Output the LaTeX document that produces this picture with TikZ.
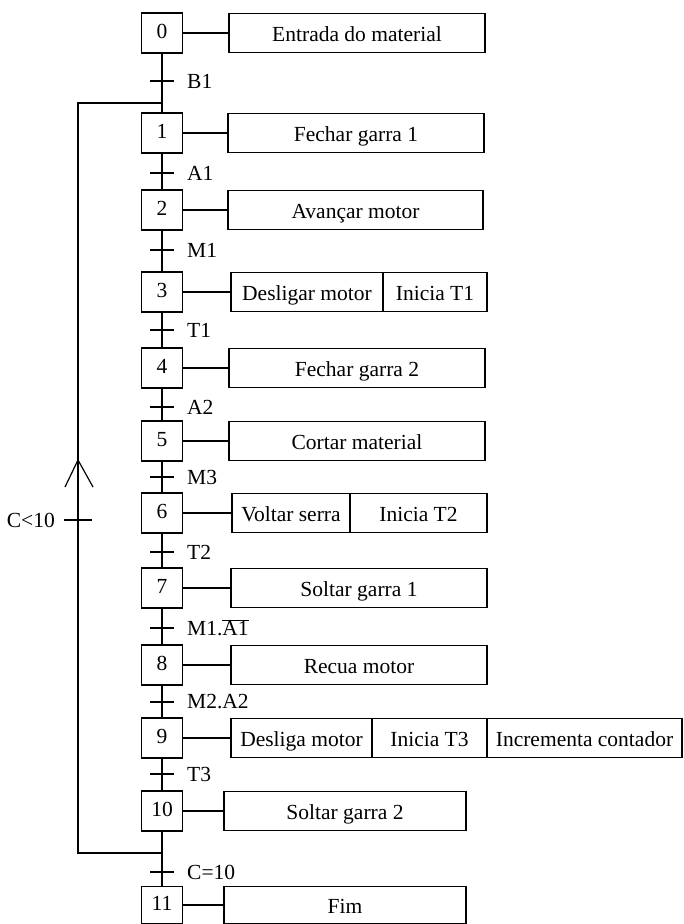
\documentclass[tikz,border=0pt]{standalone}
\usepackage{fontspec}
\setmainfont{Liberation Serif}
\begin{document}
\begin{tikzpicture}[x=1pt,y=-1pt,
  every node/.style={font=\fontsize{21.5}{25}\selectfont},
  stepbox/.style={draw,line width=1.2pt,minimum width=41pt,minimum height=40pt,inner sep=0pt,fill=white,text height=11pt,text depth=0pt},
  actbox/.style={draw,line width=1.2pt,minimum height=39pt,inner sep=0pt,fill=white,text height=21.5pt,text depth=4.5pt},
  lnk/.style={line width=1.2pt},
  tick/.style={line width=1.2pt},
  lab/.style={anchor=west,inner sep=0pt}
]
\useasboundingbox (0,0) rectangle (683,924);
% trunk coordinates
\coordinate (j1) at (162,103);
\coordinate (j2) at (162,853);
\coordinate (lt) at (78,103);
\coordinate (lb) at (78,853);
% step boxes
\node[stepbox] (s0) at (162,33) {0};
\node[stepbox] (s1) at (162,133) {1};
\node[stepbox] (s2) at (162,210) {2};
\node[stepbox] (s3) at (162,292) {3};
\node[stepbox] (s4) at (162,368) {4};
\node[stepbox] (s5) at (162,441) {5};
\node[stepbox] (s6) at (162,513) {6};
\node[stepbox] (s7) at (162,588) {7};
\node[stepbox] (s8) at (162,665) {8};
\node[stepbox] (s9) at (162,738) {9};
\node[stepbox] (s10) at (162,811) {10};
\node[stepbox,minimum height=37pt] (s11) at (162,905) {11};
% action boxes
\node[actbox,minimum width=256pt] (a0) at (357,33) {Entrada do material};
\node[actbox,minimum width=256pt] (a1) at (356,133) {Fechar garra 1};
\node[actbox,minimum width=255pt] (a2) at (355.5,210) {Avançar motor};
\node[actbox,minimum width=152pt] (a3) at (307,292) {Desligar motor};
\node[actbox,minimum width=104pt] (a3b) at (435,292) {Inicia T1};
\node[actbox,minimum width=256pt] (a4) at (357,368) {Fechar garra 2};
\node[actbox,minimum width=256pt] (a5) at (357,441) {Cortar material};
\node[actbox,minimum width=118pt] (a6) at (291,513) {Voltar serra};
\node[actbox,minimum width=137pt] (a6b) at (418.5,513) {Inicia T2};
\node[actbox,minimum width=256pt] (a7) at (359,588) {Soltar garra 1};
\node[actbox,minimum width=256pt] (a8) at (359,665) {Recua motor};
\node[actbox,minimum width=141pt] (a9) at (301.5,738) {Desliga motor};
\node[actbox,minimum width=115pt] (a9b) at (429.5,738) {Inicia T3};
\node[actbox,minimum width=195pt] (a9c) at (584.5,738) {Incrementa contador};
\node[actbox,minimum width=242pt] (a10) at (345,811) {Soltar garra 2};
\node[actbox,minimum width=242pt,minimum height=37pt] (a11) at (345,905) {Fim};
% step-action links
\foreach \i in {0,...,11} {\draw[lnk] (s\i.east) -- (a\i.west);}
% trunk links
\foreach \i/\j in {0/1,1/2,2/3,3/4,4/5,5/6,6/7,7/8,8/9,9/10,10/11} {\draw[lnk] (s\i.south) -- (s\j.north);}
% loop
\draw[lnk] (j2) -- (lb) -- (lt) -- (j1);
\coordinate (chl) at (65,487);
\coordinate (chtop) at (78,460);
\coordinate (chr) at (93,487);
\draw[lnk] (chl) -- (chtop) -- (chr);
\coordinate (tl) at (78,520);
\draw[tick] ([xshift=-14pt]tl) -- ([xshift=14pt]tl);
\node[anchor=east,inner sep=0pt] (ltxt) at (55,520) {C<10};
% transitions
\foreach \n/\y/\t in {0/81/B1,1/173/A1,2/250/M1,3/330/T1,4/407/A2,5/477/M3,6/552/T2,8/702/M2.A2,9/774/T3,10/872/C=10} {
  \coordinate (t\n) at (162,\y);
  \draw[tick] ([xshift=-12pt]t\n) -- ([xshift=12pt]t\n);
  \node[lab] (l\n) at (187,\y) {\t};
}
\coordinate (t7) at (162,628);
\draw[tick] ([xshift=-12pt]t7) -- ([xshift=12pt]t7);
\node[lab] (l7) at (187,628) {M1.$\overline{\hbox{A1}}$};
\end{tikzpicture}
\end{document}
